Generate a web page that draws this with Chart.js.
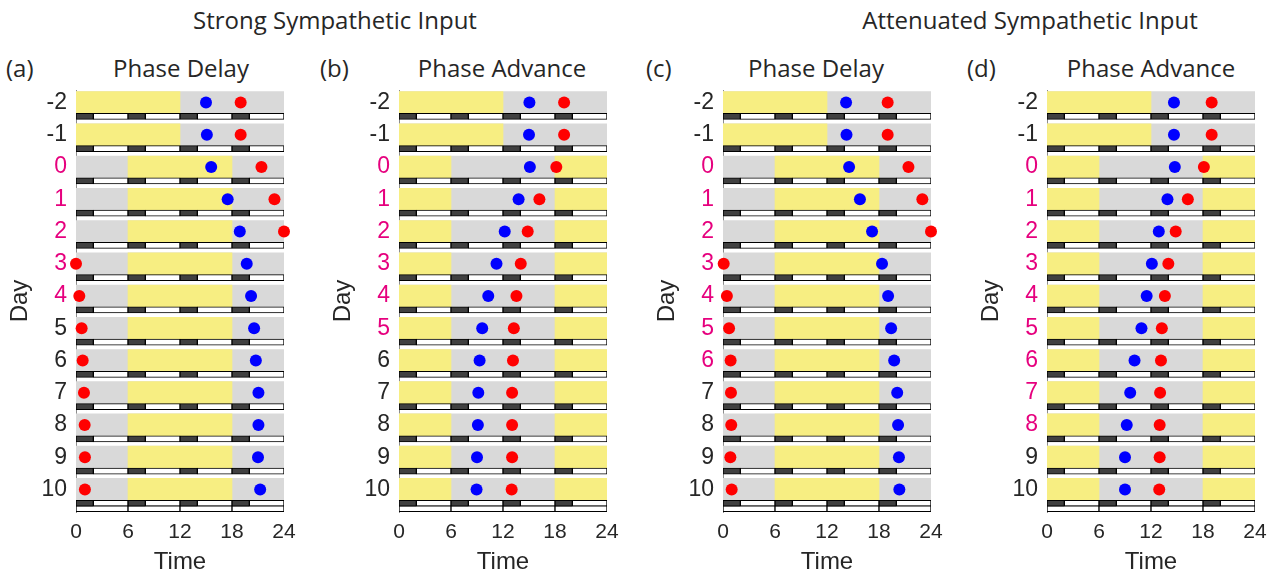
<!DOCTYPE html>
<html>
<head>
<meta charset="utf-8">
<script src="https://cdn.jsdelivr.net/npm/chart.js@4.4.0/dist/chart.umd.min.js"></script>
<style>
  body { margin: 0; background: #fff; width: 1275px; height: 578px; position: relative; overflow: hidden; color: #262626; font-family: "Open Sans", sans-serif; }
  .panel { position: absolute; top: 0; }
  .lbl { position: absolute; white-space: nowrap; font-size: 24px; line-height: 28px; transform: translateX(-50%); }
  .tag { position: absolute; white-space: nowrap; font-size: 24px; line-height: 28px; }
</style>
</head>
<body>
<div class="lbl" style="left:335px; top:6px;">Strong Sympathetic Input</div>
<div class="lbl" style="left:1030px; top:6px;">Attenuated Sympathetic Input</div>

<div class="tag" style="left:6px; top:54px;">(a)</div>
<div class="lbl" style="left:181px; top:54px;">Phase Delay</div>
<div class="tag" style="left:320px; top:54px;">(b)</div>
<div class="lbl" style="left:502px; top:54px;">Phase Advance</div>
<div class="tag" style="left:646px; top:54px;">(c)</div>
<div class="lbl" style="left:816px; top:54px;">Phase Delay</div>
<div class="tag" style="left:967px; top:54px;">(d)</div>
<div class="lbl" style="left:1151px; top:54px;">Phase Advance</div>

<canvas id="chartA" class="panel" width="304" height="578" style="left:0px"></canvas>
<canvas id="chartB" class="panel" width="304" height="578" style="left:323px"></canvas>
<canvas id="chartC" class="panel" width="304" height="578" style="left:647px"></canvas>
<canvas id="chartD" class="panel" width="304" height="578" style="left:971px"></canvas>

<script>
const days = [-2, -1, 0, 1, 2, 3, 4, 5, 6, 7, 8, 9, 10];
const timeTicks = [0, 6, 12, 18, 24];

// light periods (hours)
const baselineLight = [[0, 12]];
const delayLight = [[6, 18]];
const advanceLight = [[0, 6], [18, 24]];

// light/dark strip under each row
const darkBlocks = [[0, 2], [6, 8], [12, 14], [18, 20]];
const whiteBlocks = [[2, 6], [8, 12], [14, 18], [20, 24]];
const bottomBlocks = [[0, 6], [6, 12], [12, 18], [18, 24]];

// (a) strong input, phase delay
const blueA = [15.0, 15.1, 15.6, 17.5, 18.9, 19.7, 20.2, 20.55, 20.75, 21.05, 21.05, 21.0, 21.25];
const redA  = [19.0, 19.0, 21.4, 22.9, 24.0, 0.0, 0.38, 0.65, 0.77, 0.92, 1.0, 1.03, 1.03];
const pinkA = [0, 1, 2, 3, 4];

// (b) strong input, phase advance
const blueB = [15.05, 15.0, 15.1, 13.8, 12.2, 11.25, 10.3, 9.6, 9.3, 9.15, 9.1, 9.0, 8.95];
const redB  = [19.05, 19.05, 18.15, 16.2, 14.85, 14.05, 13.55, 13.25, 13.15, 13.05, 13.05, 13.05, 13.0];
const pinkB = [0, 1, 2, 3, 4, 5];

// (c) attenuated input, phase delay
const blueC = [14.2, 14.25, 14.55, 15.8, 17.2, 18.35, 19.05, 19.4, 19.75, 20.1, 20.2, 20.3, 20.35];
const redC  = [19.0, 19.0, 21.4, 23.0, 24.0, 0.08, 0.45, 0.7, 0.88, 0.92, 0.95, 0.85, 1.0];
const pinkC = [0, 1, 2, 3, 4, 5, 6];

// (d) attenuated input, phase advance
const blueD = [14.65, 14.65, 14.75, 13.9, 12.9, 12.1, 11.5, 10.9, 10.1, 9.6, 9.2, 9.0, 9.0];
const redD  = [19.0, 19.0, 18.1, 16.25, 14.85, 14.0, 13.6, 13.25, 13.15, 13.05, 13.0, 13.0, 12.95];
const pinkD = [0, 1, 2, 3, 4, 5, 6, 7, 8];

const GRAY = '#d9d9d9';
const YELLOW = '#f7ee82';
const DARK = '#404040';
const PINK = '#e6007e';
const TXT = '#262626';
const AXIS_FONT = 'Liberation Sans, Arial, sans-serif';

function rowBars(ranges, dayList, offset) {
  const out = [];
  dayList.forEach(d => ranges.forEach(r => out.push({ x: r, y: d + offset })));
  return out;
}

function makeChart(id, blue, red, pink, light) {
  const preDays = days.filter(d => d < 0);
  const postDays = days.filter(d => d >= 0);
  const lastDay = days[days.length - 1];

  new Chart(document.getElementById(id), {
    type: 'bar',
    data: {
      datasets: [
        {
          label: 'Blue',
          type: 'scatter',
          indexAxis: 'x',
          data: days.map((d, i) => ({ x: blue[i], y: d })),
          backgroundColor: '#0000ff',
          borderWidth: 0,
          pointRadius: 6,
          clip: false,
          order: 0
        },
        {
          label: 'Red',
          type: 'scatter',
          indexAxis: 'x',
          data: days.map((d, i) => ({ x: red[i], y: d })),
          backgroundColor: '#ff0000',
          borderWidth: 0,
          pointRadius: 6,
          clip: false,
          order: 1
        },
        {
          label: 'Dark blocks',
          data: rowBars(darkBlocks, days, 0.43),
          backgroundColor: DARK,
          borderColor: '#000',
          borderWidth: 1,
          barThickness: 6,
          order: 2
        },
        {
          label: 'White blocks',
          data: rowBars(whiteBlocks, days, 0.43).concat(rowBars(bottomBlocks, [lastDay], 0.6)),
          backgroundColor: '#fff',
          borderColor: '#000',
          borderWidth: 1,
          barThickness: 6,
          order: 3
        },
        {
          label: 'Light',
          data: rowBars(baselineLight, preDays, 0).concat(rowBars(light, postDays, 0)),
          backgroundColor: YELLOW,
          borderWidth: 0,
          barThickness: 22,
          order: 4
        },
        {
          label: 'Dark',
          data: rowBars([[0, 24]], days, 0),
          backgroundColor: GRAY,
          borderWidth: 0,
          barThickness: 22,
          order: 5
        }
      ]
    },
    options: {
      responsive: false,
      animation: false,
      indexAxis: 'y',
      layout: { padding: { top: 90, right: 20, left: 0, bottom: 0 } },
      plugins: { legend: { display: false }, tooltip: { enabled: false } },
      datasets: { bar: { grouped: false, borderSkipped: false } },
      scales: {
        x: {
          type: 'linear',
          min: 0,
          max: 24,
          offset: false,
          grid: { display: false, drawTicks: false },
          border: { display: false },
          afterBuildTicks: s => { s.ticks = timeTicks.map(v => ({ value: v })); },
          afterFit: s => { s.height = 66; },
          ticks: { padding: 8, color: TXT, autoSkip: false, maxRotation: 0, font: { family: AXIS_FONT, size: 21 } },
          title: { display: true, text: 'Time', color: TXT, padding: { top: 0, bottom: 1 }, font: { family: AXIS_FONT, size: 24 } }
        },
        y: {
          type: 'linear',
          reverse: true,
          min: -2.388,
          max: 10.7,
          offset: false,
          grid: { display: false, drawTicks: false },
          border: { display: true, color: '#8c8c8c', width: 1 },
          afterBuildTicks: s => { s.ticks = days.map(v => ({ value: v })); },
          afterFit: s => { s.width = 76; },
          ticks: {
            padding: 9,
            autoSkip: false,
            color: c => pink.includes(c.tick.value) ? PINK : TXT,
            font: { family: AXIS_FONT, size: 23 }
          },
          title: { display: true, text: 'Day', color: TXT, padding: { top: 6, bottom: 0 }, font: { family: AXIS_FONT, size: 24 } }
        }
      }
    }
  });
}

makeChart('chartA', blueA, redA, pinkA, delayLight);
makeChart('chartB', blueB, redB, pinkB, advanceLight);
makeChart('chartC', blueC, redC, pinkC, delayLight);
makeChart('chartD', blueD, redD, pinkD, advanceLight);
</script>
</body>
</html>
